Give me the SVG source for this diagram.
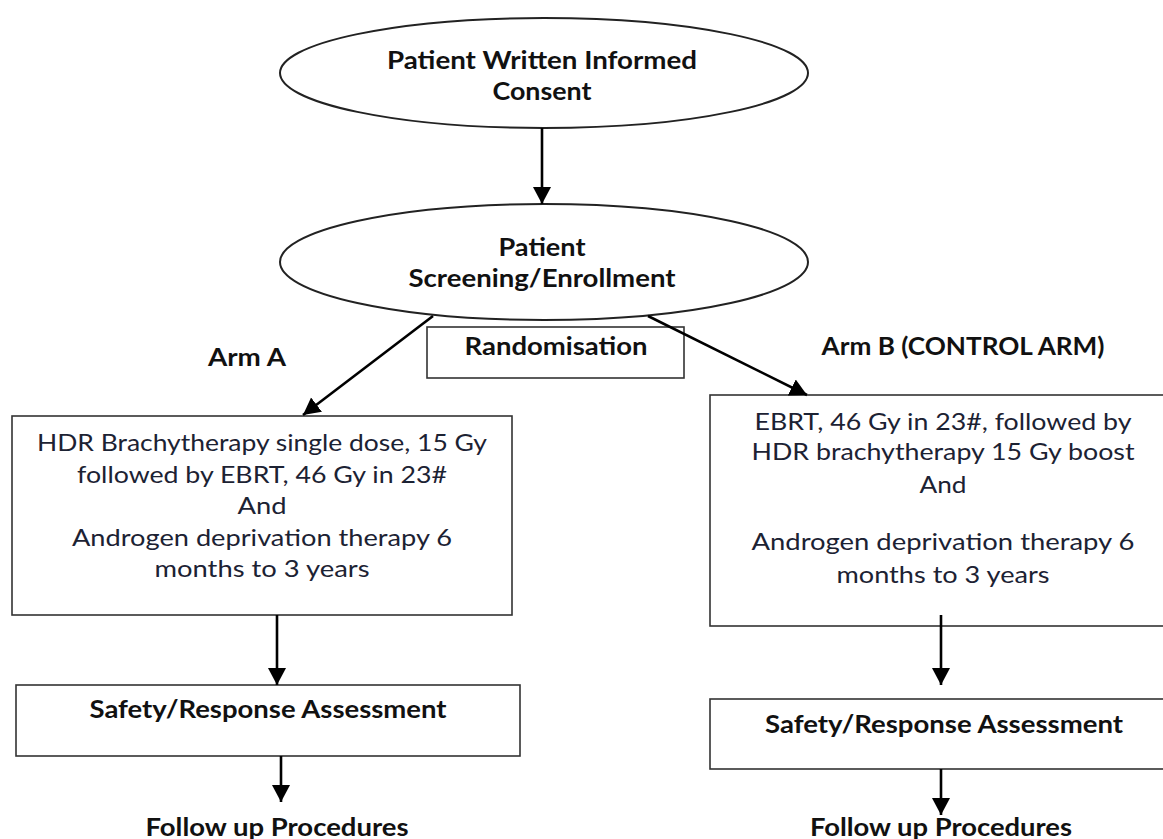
<svg xmlns="http://www.w3.org/2000/svg" width="1163" height="839" viewBox="0 0 1163 839">
<style>
.shape{fill:#fff;stroke:#222;stroke-width:2}
.box{fill:#fff;stroke:#333;stroke-width:1.6}
.b{font-family:Lato,"Liberation Sans",sans-serif;font-weight:bold;font-size:24px;fill:#111;text-anchor:middle}
.r{font-family:Lato,"Liberation Sans",sans-serif;font-size:24px;fill:#1c2233;text-anchor:middle}
.conn{stroke:#000;stroke-width:2.6;fill:none}
</style>
<defs>
<marker id="ah" markerUnits="userSpaceOnUse" markerWidth="20" markerHeight="20" viewBox="0 0 20 20" refX="17" refY="10" orient="auto">
<path d="M0,1 L17,10 L0,19 Z" fill="#000"/>
</marker>
</defs>
<rect width="1163" height="839" fill="#fff"/>
<g id="consent">
<ellipse class="shape" cx="544" cy="73" rx="264" ry="55"/>
<text class="b" x="542" y="69" textLength="310" lengthAdjust="spacingAndGlyphs">Patient Written Informed</text>
<text class="b" x="542" y="100" textLength="99" lengthAdjust="spacingAndGlyphs">Consent</text>
</g>
<g id="screening">
<ellipse class="shape" cx="544" cy="262" rx="264" ry="58"/>
<text class="b" x="542" y="256" textLength="87" lengthAdjust="spacingAndGlyphs">Patient</text>
<text class="b" x="542" y="287" textLength="267" lengthAdjust="spacingAndGlyphs">Screening/Enrollment</text>
</g>
<g id="randomisation">
<rect class="box" x="427" y="327" width="257" height="51"/>
<text class="b" x="556" y="355" textLength="183" lengthAdjust="spacingAndGlyphs">Randomisation</text>
</g>
<g id="armA-label"><text class="b" x="247" y="366" textLength="78" lengthAdjust="spacingAndGlyphs">Arm A</text></g>
<g id="armB-label"><text class="b" x="963" y="355" textLength="283" lengthAdjust="spacingAndGlyphs">Arm B (CONTROL ARM)</text></g>
<g id="armA">
<rect class="box" x="12" y="416" width="500" height="199"/>
<text class="r" x="262" y="451" textLength="450" lengthAdjust="spacingAndGlyphs">HDR Brachytherapy single dose, 15 Gy</text>
<text class="r" x="262" y="483" textLength="370" lengthAdjust="spacingAndGlyphs">followed by EBRT, 46 Gy in 23#</text>
<text class="r" x="262" y="514" textLength="49" lengthAdjust="spacingAndGlyphs">And</text>
<text class="r" x="262" y="546" textLength="380" lengthAdjust="spacingAndGlyphs">Androgen deprivation therapy 6</text>
<text class="r" x="262" y="577" textLength="215" lengthAdjust="spacingAndGlyphs">months to 3 years</text>
</g>
<g id="armB">
<rect class="box" x="710" y="395" width="470" height="231"/>
<text class="r" x="943" y="430" textLength="377" lengthAdjust="spacingAndGlyphs">EBRT, 46 Gy in 23#, followed by</text>
<text class="r" x="943" y="460" textLength="383" lengthAdjust="spacingAndGlyphs">HDR brachytherapy 15 Gy boost</text>
<text class="r" x="943" y="493" textLength="47" lengthAdjust="spacingAndGlyphs">And</text>
<text class="r" x="943" y="550" textLength="383" lengthAdjust="spacingAndGlyphs">Androgen deprivation therapy 6</text>
<text class="r" x="943" y="583" textLength="213" lengthAdjust="spacingAndGlyphs">months to 3 years</text>
</g>
<g id="safetyA">
<rect class="box" x="16" y="685" width="504" height="71"/>
<text class="b" x="268" y="718" textLength="357" lengthAdjust="spacingAndGlyphs">Safety/Response Assessment</text>
</g>
<g id="safetyB">
<rect class="box" x="710" y="699" width="470" height="70"/>
<text class="b" x="944" y="733" textLength="358" lengthAdjust="spacingAndGlyphs">Safety/Response Assessment</text>
</g>
<g id="followA"><text class="b" x="277" y="836" textLength="263" lengthAdjust="spacingAndGlyphs">Follow up Procedures</text></g>
<g id="followB"><text class="b" x="941" y="836" textLength="262" lengthAdjust="spacingAndGlyphs">Follow up Procedures</text></g>
<g id="connectors">
<line class="conn" x1="542" y1="128" x2="542" y2="204" marker-end="url(#ah)"/>
<line class="conn" x1="433" y1="316" x2="303" y2="415" marker-end="url(#ah)"/>
<line class="conn" x1="648" y1="316" x2="807" y2="395" marker-end="url(#ah)"/>
<line class="conn" x1="277" y1="615" x2="277" y2="685" marker-end="url(#ah)"/>
<line class="conn" x1="281" y1="756" x2="281" y2="802" marker-end="url(#ah)"/>
<line class="conn" x1="941" y1="615" x2="941" y2="685" marker-end="url(#ah)"/>
<line class="conn" x1="941" y1="769" x2="941" y2="815" marker-end="url(#ah)"/>
</g>
</svg>
